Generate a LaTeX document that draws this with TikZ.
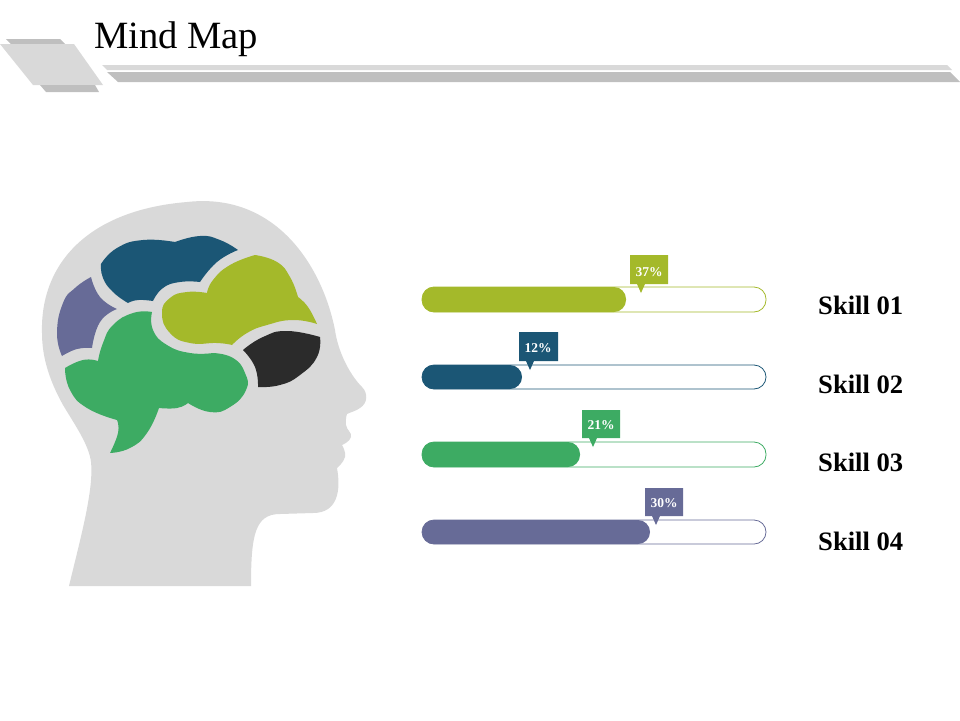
\documentclass[tikz,border=0pt]{standalone}
\usepackage{fontspec}
\setmainfont{Liberation Serif}
\definecolor{lime}{HTML}{A4B92A}
\definecolor{navy}{HTML}{1B5675}
\definecolor{leaf}{HTML}{3DAB63}
\definecolor{slate}{HTML}{676B97}
\definecolor{coal}{HTML}{2B2B2B}
\definecolor{headgrey}{HTML}{D9D9D9}
\definecolor{bargrey}{HTML}{BFBFBF}
\tikzset{
  x=1pt,y=-1pt,
  sm/.style={smooth,tension=0.85},
  track/.style={draw=#1,line width=0.8pt,fill=white,rounded corners=12pt},
  barfill/.style={fill=#1,rounded corners=12pt},
  tag/.style={fill=#1},
  taglabel/.style={text=white,font=\bfseries\fontsize{13.5}{13.5}\selectfont,inner sep=0pt},
  skill/.style={font=\bfseries\fontsize{26.6}{26.6}\selectfont,anchor=west,inner sep=0pt},
  titletext/.style={font=\fontsize{38.6}{38.6}\selectfont,anchor=west,inner sep=0pt}
}
\begin{document}
\begin{tikzpicture}
\useasboundingbox (0,0) rectangle (960,720);
% header
\fill[bargrey] (6,39)--(60,39)--(65,44)--(11,44)--cycle;
\fill[headgrey] (0,44)--(74,44)--(103,85)--(33,85)--cycle;
\fill[bargrey] (40,85)--(95,85)--(99,92)--(46,92)--cycle;
\fill[headgrey] (102,65)--(947,65)--(952,70)--(107,70)--cycle;
\fill[bargrey] (107,72)--(950,72)--(960,82)--(118,82)--cycle;
\node[titletext] (title) at (94,39) {Mind Map};
% head
\fill[headgrey] (69,586) .. controls (80,540) and (94,490) .. (91,462)
 .. controls (89,445) and (75,425) .. (63,405)
 .. controls (48,378) and (42,355) .. (42,333)
 .. controls (40,262) and (90,210) .. (187,202)
 .. controls (275,192) and (322,265) .. (335,330)
 .. controls (338,352) and (350,375) .. (362,387)
 .. controls (368,393) and (368,403) .. (360,408)
 .. controls (356,411) and (351,412) .. (347,414)
 -- plot[sm] coordinates {(347,414)(346,425)(351,437)(342,445)}
 -- plot[sm] coordinates {(342,445)(345,457)(337,468)}
 .. controls (341,490) and (338,513) .. (313,513)
 -- (280,514)
 .. controls (255,514) and (251,535) .. (251,586) -- cycle;
% lobes
\fill[navy] plot[sm] coordinates {(101,264)(117,248)(143,240)(175,242)}
 -- plot[sm] coordinates {(175,242)(200,236)(220,240)(238,250)}
 -- plot[sm] coordinates {(238,250)(217,262)(200,282)}
 -- plot[sm] coordinates {(200,282)(180,282)(163,288)(153,301)}
 -- plot[sm] coordinates {(153,301)(138,300)(128,303)}
 -- plot[sm] coordinates {(128,303)(113,292)(103,278)(101,264)} -- cycle;
\fill[slate] plot[sm] coordinates {(91,277)(100,297)(117,309)}
 -- plot[sm] coordinates {(117,309)(100,322)(92,348)}
 -- plot[sm] coordinates {(92,348)(77,349)(62,356)}
 -- plot[sm] coordinates {(62,356)(57,333)(63,303)(75,288)(91,277)} -- cycle;
\fill[lime] plot[sm] coordinates {(255,255)(277,262)(290,277)(298,297)}
 -- plot[sm] coordinates {(298,297)(308,307)(317,324)}
 -- plot[sm] coordinates {(317,324)(293,320)(267,325)(247,333)(232,345)}
 -- plot[sm] coordinates {(232,345)(217,343)(190,343)(170,333)(162,313)(170,298)(187,292)(207,293)}
 -- plot[sm] coordinates {(207,293)(213,280)(230,265)(255,255)} -- cycle;
\fill[coal] plot[sm] coordinates {(243,350)(263,337)(287,331)(320,337)}
 -- plot[sm] coordinates {(320,337)(317,357)(300,375)(280,385)(258,387)}
 -- plot[sm] coordinates {(258,387)(255,367)(243,350)} -- cycle;
\fill[leaf] plot[sm] coordinates {(152,312)(133,313)(113,325)(103,343)(98,361)}
 -- plot[sm] coordinates {(98,361)(83,360)(65,368)}
 -- plot[sm] coordinates {(65,368)(70,390)(87,408)(117,420)}
 -- plot[sm] coordinates {(117,420)(118,433)(110,453)}
 -- plot[sm] coordinates {(110,453)(130,448)(147,433)(159,408)}
 -- plot[sm] coordinates {(159,408)(177,408)(188,403)}
 -- plot[sm] coordinates {(188,403)(210,412)(230,407)(246,390)(245,373)(233,358)(213,353)}
 -- plot[sm] coordinates {(213,353)(190,353)(167,345)(153,330)(152,312)} -- cycle;
% bars
\path[track=lime] (422,287) rectangle (766,312);
\path[barfill=lime] (422,287) rectangle (626,312);
\path[track=navy] (422,365) rectangle (766,389);
\path[barfill=navy] (422,365) rectangle (522,389);
\path[track=leaf] (422,442) rectangle (766,467);
\path[barfill=leaf] (422,442) rectangle (580,467);
\path[track=slate] (422,520) rectangle (766,544);
\path[barfill=slate] (422,520) rectangle (650,544);
% tags
\fill[tag=lime] (630,255)--(668,255)--(668,284)--(645,284)--(641,293)--(637,284)--(630,284)--cycle;
\node[taglabel] (t1) at (649,272) {37\%};
\fill[tag=navy] (519,332)--(558,332)--(558,361)--(534,361)--(530,370)--(526,361)--(519,361)--cycle;
\node[taglabel] (t2) at (538,348) {12\%};
\fill[tag=leaf] (582,410)--(620,410)--(620,438)--(597,438)--(593,447)--(589,438)--(582,438)--cycle;
\node[taglabel] (t3) at (601,425) {21\%};
\fill[tag=slate] (645,488)--(683,488)--(683,516)--(660,516)--(656,525)--(652,516)--(645,516)--cycle;
\node[taglabel] (t4) at (664,503) {30\%};
% labels
\node[skill] (s1) at (818,305) {Skill 01};
\node[skill] (s2) at (818,384) {Skill 02};
\node[skill] (s3) at (818,462) {Skill 03};
\node[skill] (s4) at (818,541) {Skill 04};
\end{tikzpicture}
\end{document}
